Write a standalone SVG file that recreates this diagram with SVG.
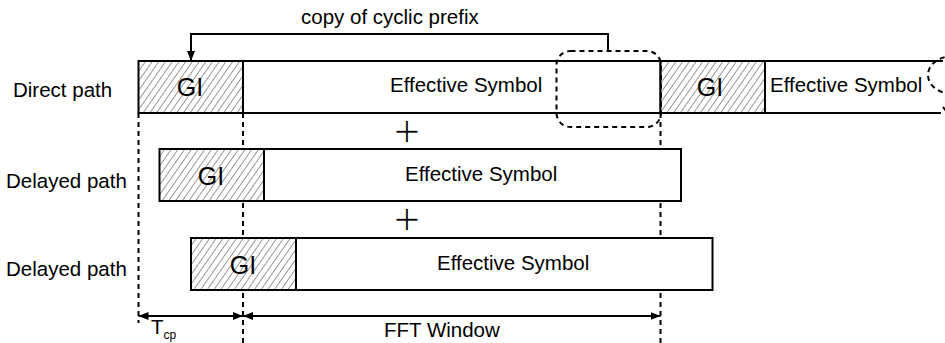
<svg xmlns="http://www.w3.org/2000/svg" width="945" height="343" viewBox="0 0 945 343">
  <defs>
    <pattern id="hatch" patternUnits="userSpaceOnUse" width="5.5" height="10" patternTransform="rotate(35)">
      <line x1="0" y1="0" x2="0" y2="10" stroke="#333" stroke-width="1"/>
    </pattern>
    <marker id="head" viewBox="0 0 10 8" refX="10" refY="4" markerWidth="10" markerHeight="8" markerUnits="userSpaceOnUse" orient="auto-start-reverse">
      <path d="M0,0 L10,4 L0,8 Z" fill="#000"/>
    </marker>
  </defs>
  <style>
    .lbl { font-family: "Liberation Sans", Arial, sans-serif; font-size: 20.5px; fill: #000; }
    .gi { font-family: "Liberation Sans", Arial, sans-serif; font-size: 25px; fill: #000; text-anchor: middle; }
    .plus { font-family: "Liberation Sans", Arial, sans-serif; font-size: 46px; fill: #000; stroke: #fff; stroke-width: 1.3; text-anchor: middle; }
    .box { fill: #fff; stroke: #000; stroke-width: 2; }
    .guard { fill: url(#hatch); stroke: #000; stroke-width: 2; }
    .dash { fill: none; stroke: #000; stroke-width: 2; stroke-dasharray: 5 4; }
    .line { fill: none; stroke: #000; stroke-width: 2; }
  </style>
  <rect width="945" height="343" fill="#fff"/>

  <!-- timing guides -->
  <g id="guides">
    <line class="dash" x1="138.5" y1="113" x2="138.5" y2="323"/>
    <line class="dash" x1="243" y1="113" x2="243" y2="343"/>
    <line class="dash" x1="660.5" y1="113" x2="660.5" y2="343"/>
  </g>

  <!-- row labels -->
  <text class="lbl" x="13" y="97">Direct path</text>
  <text class="lbl" x="6" y="188">Delayed path</text>
  <text class="lbl" x="6" y="276">Delayed path</text>

  <!-- direct path: first symbol -->
  <g id="direct-symbol-1">
    <rect class="box" x="243" y="61" width="417.5" height="52"/>
    <rect fill="#fff" x="138.5" y="61" width="104.5" height="52"/>
    <rect class="guard" x="138.5" y="61" width="104.5" height="52"/>
    <text class="gi" x="190" y="96">GI</text>
    <text class="lbl" x="390" y="92">Effective Symbol</text>
  </g>

  <!-- direct path: next symbol -->
  <g id="direct-symbol-2">
    <rect fill="#fff" x="765" y="61" width="180" height="52"/>
    <path class="line" d="M765,61 H943 M765,113 H941"/>
    <rect fill="#fff" x="660.5" y="61" width="104.5" height="52"/>
    <rect class="guard" x="660.5" y="61" width="104.5" height="52"/>
    <text class="gi" x="710" y="96">GI</text>
    <text class="lbl" x="770" y="92">Effective Symbol</text>
  </g>

  <!-- first delayed path -->
  <g id="delayed-symbol-1">
    <rect class="box" x="264" y="149" width="417" height="52"/>
    <rect fill="#fff" x="159.5" y="149" width="104.5" height="52"/>
    <rect class="guard" x="159.5" y="149" width="104.5" height="52"/>
    <text class="gi" x="211" y="185">GI</text>
    <text class="lbl" x="405" y="181">Effective Symbol</text>
  </g>

  <!-- second delayed path -->
  <g id="delayed-symbol-2">
    <rect class="box" x="296" y="238" width="416.5" height="52"/>
    <rect fill="#fff" x="191" y="238" width="105" height="52"/>
    <rect class="guard" x="191" y="238" width="105" height="52"/>
    <text class="gi" x="243" y="274">GI</text>
    <text class="lbl" x="437" y="270">Effective Symbol</text>
  </g>

  <!-- summation signs -->
  <text class="plus" x="407" y="147">+</text>
  <text class="plus" x="407" y="235">+</text>

  <!-- copied tail regions -->
  <g id="tail-regions">
    <rect class="dash" x="556.5" y="51" width="104.5" height="76" rx="14" ry="14"/>
    <ellipse class="dash" cx="953" cy="75" rx="25" ry="19"/>
    <path class="dash" d="M943,107 L946,111"/>
  </g>

  <!-- connectors -->
  <g id="connectors">
    <path class="line" d="M608,51 V34 H191 V61" marker-end="url(#head)"/>
    <line class="line" x1="138.5" y1="316" x2="243" y2="316" marker-start="url(#head)" marker-end="url(#head)"/>
    <line class="line" x1="243" y1="316" x2="660.5" y2="316" marker-start="url(#head)" marker-end="url(#head)"/>
  </g>

  <!-- connector labels -->
  <text class="lbl" x="301" y="24">copy of cyclic prefix</text>
  <text class="lbl" x="151" y="334">T<tspan font-size="12" dy="5">cp</tspan></text>
  <text class="lbl" x="384" y="337">FFT Window</text>
</svg>
